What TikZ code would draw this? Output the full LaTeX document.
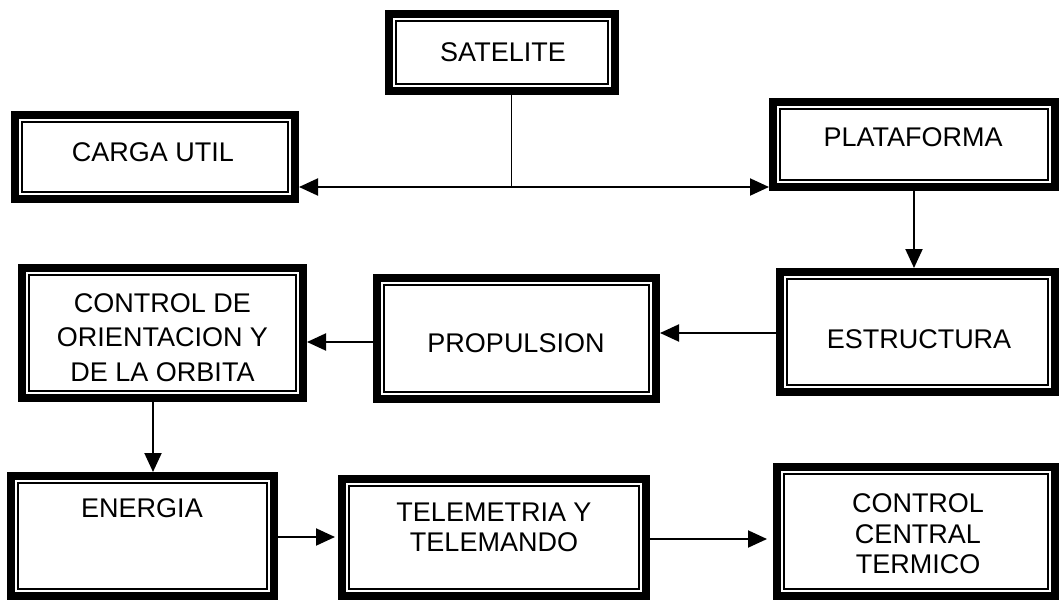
\documentclass[tikz,border=0pt]{standalone}
\usepackage{fontspec}
\setmainfont{Liberation Sans}
\usetikzlibrary{arrows.meta,calc}

\begin{document}
\begin{tikzpicture}[x=1pt,y=-1pt,
  sbox/.style={draw=black, line width=8pt, inner sep=0pt, outer sep=4pt, fill=white},
  inner/.style={draw=black, line width=1.8pt},
  txt/.style={font=\fontsize{27pt}{30.5pt}\selectfont, align=center, inner sep=0pt},
  conn/.style={line width=2pt, -{Triangle[length=19pt,width=17pt]}},
  both/.style={line width=2pt, {Triangle[length=19pt,width=17pt]}-{Triangle[length=19pt,width=17pt]}},
  stem/.style={line width=1pt}]
\useasboundingbox (0,0) rectangle (1060,602);

% frames: outer thick line, inner thin line
\node[sbox, minimum width=226pt, minimum height=77pt]  (satelite)   at (502,52.5)   {};
\node[sbox, minimum width=280pt, minimum height=84pt]  (carga)      at (155,157)    {};
\node[sbox, minimum width=282pt, minimum height=85pt]  (plataforma) at (914,144.5)  {};
\node[sbox, minimum width=275pt, minimum height=120pt] (estructura) at (917.5,332)  {};
\node[sbox, minimum width=279pt, minimum height=121pt] (propulsion) at (516.5,338.5){};
\node[sbox, minimum width=281pt, minimum height=130pt] (orbita)     at (162.5,333)  {};
\node[sbox, minimum width=263pt, minimum height=120pt] (energia)    at (142.5,536)  {};
\node[sbox, minimum width=304pt, minimum height=117pt] (telemetria) at (494,537.5)  {};
\node[sbox, minimum width=278pt, minimum height=129pt] (termico)    at (916,531.5)  {};

\foreach \n in {satelite,carga,plataforma,estructura,propulsion,orbita,energia,telemetria,termico}
  \draw[inner] ([shift={(10.9pt,-10.9pt)}]\n.north west) rectangle ([shift={(-10.9pt,10.9pt)}]\n.south east);

% labels
\node[txt] (satelite-t)   at (503,52)    {SATELITE};
\node[txt] (carga-t)      at (153,152)   {CARGA UTIL};
\node[txt] (plataforma-t) at (913,137)   {PLATAFORMA};
\node[txt] (estructura-t) at (919,339)   {ESTRUCTURA};
\node[txt] (propulsion-t) at (516,343)   {PROPULSION};
\node[txt, font=\fontsize{27pt}{34.5pt}\selectfont] (orbita-t) at (162.5,337.5)
  {CONTROL DE\\ORIENTACION Y\\DE LA ORBITA};
\node[txt] (energia-t)    at (142,508)   {ENERGIA};
\node[txt] (telemetria-t) at (494,527.5) {TELEMETRIA Y\\TELEMANDO};
\node[txt, font=\fontsize{27pt}{30.5pt}\selectfont] (termico-t) at (918,534)
  {CONTROL\\CENTRAL\\TERMICO};

% connectors
\coordinate (split) at (511,187);
\draw[stem] (satelite.south -| split) -- (split);
\draw[both] (carga.east |- split) -- (plataforma.west |- split);

\coordinate (c1) at (914,0);
\draw[conn] (plataforma.south -| c1) -- (estructura.north -| c1);

\coordinate (c2) at (0,333);
\draw[conn] (estructura.west |- c2) -- (propulsion.east |- c2);

\coordinate (c3) at (0,342);
\draw[conn] (propulsion.west |- c3) -- (orbita.east |- c3);

\coordinate (c4) at (153,0);
\draw[conn] (orbita.south -| c4) -- (energia.north -| c4);

\coordinate (c5) at (0,537);
\draw[conn] (energia.east |- c5) -- ([xshift=-3pt]telemetria.west |- c5);

\coordinate (c6) at (0,539);
\draw[conn] (telemetria.east |- c6) -- ([xshift=-6pt]termico.west |- c6);
\end{tikzpicture}
\end{document}
